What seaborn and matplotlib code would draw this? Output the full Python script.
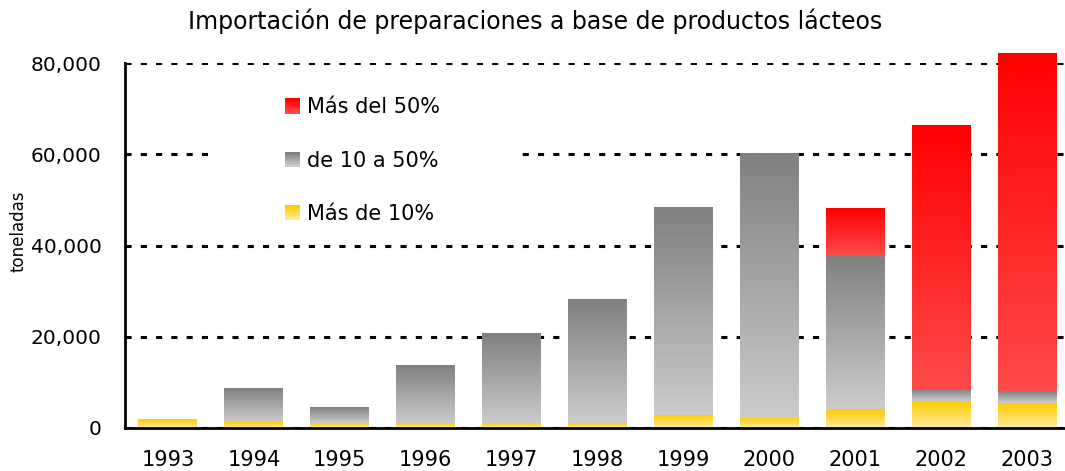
import numpy as np
import pandas as pd
import matplotlib
matplotlib.use("Agg")
import matplotlib.pyplot as plt
import seaborn as sns
from matplotlib.colors import LinearSegmentedColormap
from matplotlib.patches import Rectangle
from matplotlib.legend_handler import HandlerBase

years = ["1993", "1994", "1995", "1996", "1997", "1998", "1999", "2000", "2001", "2002", "2003"]
# toneladas, por rango de contenido lacteo
mas_de_10 = [1900, 1200, 1000, 900, 900, 1000, 2800, 2200, 4100, 5900, 5400]
de_10_a_50 = [0, 7400, 3400, 12900, 19900, 27200, 45600, 58100, 33800, 2500, 2600]
mas_del_50 = [0, 0, 0, 0, 0, 0, 0, 0, 10100, 57800, 74000]

series_names = ["Más de 10%", "de 10 a 50%", "Más del 50%"]
# (top colour, bottom colour) of each gradient
grad_colors = [("#FFCC00", "#FFEBA0"), ("#808080", "#CCCCCC"), ("#FF0000", "#FF4A4A")]

df = pd.DataFrame({"year": years, "s1": mas_de_10, "s2": de_10_a_50, "s3": mas_del_50})
df["c1"] = df["s1"]
df["c2"] = df["c1"] + df["s2"]
df["c3"] = df["c2"] + df["s3"]

sns.set_style("white")
plt.rcParams["font.family"] = ["DejaVu Sans"]
plt.rcParams["text.color"] = "black"
plt.rcParams["axes.labelcolor"] = "black"
plt.rcParams["xtick.color"] = "black"
plt.rcParams["ytick.color"] = "black"

fig = plt.figure(figsize=(10.65, 4.71), dpi=100)
ax = fig.add_axes([125 / 1065, 43.3 / 471, 945 / 1065, 364.4 / 471])

bar_w = 0.686
bottoms = [np.zeros(len(years)), df["c1"].values, df["c2"].values]
for i, col in enumerate(["c1", "c2", "c3"]):
    n_before = len(ax.patches)
    sns.barplot(data=df, x="year", y=col, order=years, width=bar_w,
                color="white", ax=ax, zorder=3)
    cmap = LinearSegmentedColormap.from_list("g%d" % i, [grad_colors[i][1], grad_colors[i][0]])
    grad = np.linspace(0, 1, 256).reshape(-1, 1)
    for j, p in enumerate(ax.patches[n_before:]):
        p.set_visible(False)
        top = p.get_height()
        bot = bottoms[i][j]
        if top - bot <= 0:
            continue
        x0 = p.get_x()
        ax.imshow(grad, cmap=cmap, origin="lower", aspect="auto",
                  extent=[x0, x0 + p.get_width(), bot, top],
                  zorder=3, clip_on=False, interpolation="bilinear")

ax.set_xlim(-0.5, len(years) - 0.5)
ax.set_ylim(0, 80000)

# grid
ax.set_yticks([0, 20000, 40000, 60000, 80000])
ax.yaxis.grid(True, color="black", linestyle=(0, (2, 3)), linewidth=2.2, zorder=0)
ax.set_axisbelow(True)
ax.yaxis.set_major_formatter(matplotlib.ticker.FuncFormatter(lambda v, _: f"{int(v):,}"))

# ticks
ax.set_xticks(range(len(years)))
ax.set_xticklabels(years)
ax.set_xticks(np.arange(-0.5, len(years)), minor=True)
ax.tick_params(axis="x", which="major", length=0, labelsize=15, pad=16)
ax.tick_params(axis="x", which="minor", length=8, width=2, direction="out", color="black")
ax.tick_params(axis="y", which="major", length=12, width=2, direction="inout", labelsize=14.5, pad=11)

for s in ["top", "right"]:
    ax.spines[s].set_visible(False)
for s in ["left", "bottom"]:
    ax.spines[s].set_color("black")
    ax.spines[s].set_linewidth(2)
    ax.spines[s].set_zorder(4)

ax.set_xlabel("")
ax.set_ylabel("toneladas", fontsize=12)
ax.yaxis.set_label_coords(-97 / 945, (427.7 - 231) / 364.4)
fig.text(535 / 1065, 1 - 21 / 471, "Importación de preparaciones a base de productos lácteos",
         ha="center", va="center", fontsize=17)


# legend with gradient squares
class GradHandler(HandlerBase):
    def __init__(self, top, bottom):
        super().__init__()
        self.top = top
        self.bottom = bottom

    def create_artists(self, legend, orig_handle, xdescent, ydescent, width, height, fontsize, trans):
        cmap = LinearSegmentedColormap.from_list("h", [self.bottom, self.top])
        arts = []
        n = 10
        for k in range(n):
            r = Rectangle((-xdescent, -ydescent + k * height / n), width, height / n + 0.3,
                          facecolor=cmap(k / (n - 1)), edgecolor="none", transform=trans)
            arts.append(r)
        return arts


handles = [Rectangle((0, 0), 1, 1) for _ in range(3)]
handler_map = {handles[i]: GradHandler(*grad_colors[i]) for i in range(3)}
order = [2, 1, 0]
# white box behind the legend that breaks the grid lines
bg = Rectangle((210 / 1065, 1 - 235 / 471), 310 / 1065, 150 / 471, transform=fig.transFigure,
               facecolor="white", edgecolor="none", zorder=1)
ax.add_patch(bg)
leg = ax.legend([handles[i] for i in order], [series_names[i] for i in order],
                handler_map=handler_map, loc="upper left",
                bbox_to_anchor=(275 / 1065, 1 - 87 / 471), bbox_transform=fig.transFigure,
                frameon=False, fontsize=15, handlelength=0.72, handleheight=0.72,
                handletextpad=0.3, labelspacing=1.6, borderpad=0)

fig.savefig("out.png", dpi=100)
